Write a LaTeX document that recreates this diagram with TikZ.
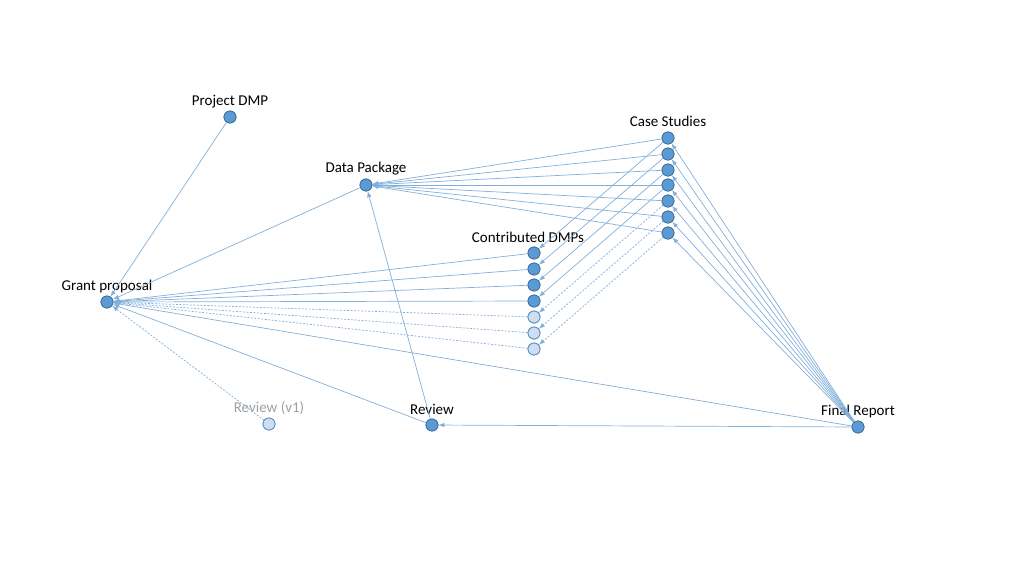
\documentclass[tikz,border=0pt]{standalone}
\usepackage{fontspec}
\setmainfont{Carlito}
\usetikzlibrary{arrows.meta}
\definecolor{edgeblue}{RGB}{130,175,218}
\definecolor{dotfill}{RGB}{91,155,213}
\definecolor{dotline}{RGB}{65,113,156}
\definecolor{lightfill}{RGB}{205,222,240}
\definecolor{lightline}{RGB}{95,140,190}
\definecolor{greytext}{RGB}{160,160,160}
\tikzset{
  dot/.style={circle, fill=dotfill, draw=dotline, line width=0.8pt, minimum size=12pt, inner sep=0pt},
  lightdot/.style={circle, fill=lightfill, draw=lightline, line width=0.8pt, minimum size=12pt, inner sep=0pt},
  lbl/.style={font=\fontsize{15}{17}\selectfont, text=black, inner sep=1pt},
  glbl/.style={font=\fontsize{15}{17}\selectfont, text=greytext, inner sep=1pt},
  link/.style={draw=edgeblue, line width=0.7pt, -{Latex[length=6pt,width=4.5pt]}},
  dlink/.style={link, dash pattern=on 2pt off 1.5pt},
}
\begin{document}
\begin{tikzpicture}[x=1pt,y=-1pt]
\useasboundingbox (0,0) rectangle (1024,576);
% nodes
\node[dot, label={[lbl,yshift=1pt]above:Project DMP}] (pdmp) at (230,117) {};
\node[dot, label={[lbl,yshift=2pt]above:Data Package}] (dp) at (366,185) {};
\node[dot, label={[lbl,yshift=1pt]above:Grant proposal}] (gp) at (107,302) {};
\node[lightdot, label={[glbl,yshift=2pt]above:Review (v1)}] (rv1) at (269,424) {};
\node[dot, label={[lbl,yshift=3pt]above:Review}] (rv) at (432,425) {};
\node[dot, label={[lbl,yshift=1pt]above:Final Report}] (fr) at (858,427) {};
% case studies
\node[dot, label={[lbl,yshift=4pt]above:Case Studies}] (cs1) at (668,138) {};
\node[dot] (cs2) at (668,154) {};
\node[dot] (cs3) at (668,170) {};
\node[dot] (cs4) at (668,185) {};
\node[dot] (cs5) at (668,201) {};
\node[dot] (cs6) at (668,217) {};
\node[dot] (cs7) at (668,233) {};
% contributed DMPs
\node[dot, label={[lbl,xshift=-6pt,yshift=3pt]above:Contributed DMPs}] (cd1) at (534,253) {};
\node[dot] (cd2) at (534,269) {};
\node[dot] (cd3) at (534,285) {};
\node[dot] (cd4) at (534,301) {};
\node[lightdot] (cd5) at (534,317) {};
\node[lightdot] (cd6) at (534,333) {};
\node[lightdot] (cd7) at (534,349) {};
% edges into grant proposal
\draw[link] (pdmp) -- (gp);
\draw[link] (dp) -- (gp);
\foreach \i in {1,2,3,4} {\draw[link] (cd\i) -- (gp);}
\foreach \i in {5,6,7} {\draw[dlink] (cd\i) -- (gp);}
\draw[dlink] (rv1) -- (gp);
\draw[link] (rv) -- (gp);
\draw[link] (fr) -- (gp);
% edges into data package
\foreach \i in {1,...,7} {\draw[link] (cs\i) -- (dp);}
\draw[link] (rv) -- (dp);
% case studies to contributed DMPs
\foreach \i in {1,2,3,4} {\draw[link] (cs\i) -- (cd\i);}
\foreach \i in {5,6,7} {\draw[dlink] (cs\i) -- (cd\i);}
% final report
\foreach \i in {1,...,7} {\draw[link] (fr) -- (cs\i);}
\draw[link] (fr) -- (rv);
% redraw nodes on top
\foreach \n in {pdmp,dp,gp,rv,fr,cs1,cs2,cs3,cs4,cs5,cs6,cs7,cd1,cd2,cd3,cd4} {\node[dot] at (\n.center) {};}
\foreach \n in {rv1,cd5,cd6,cd7} {\node[lightdot] at (\n.center) {};}
\end{tikzpicture}
\end{document}
